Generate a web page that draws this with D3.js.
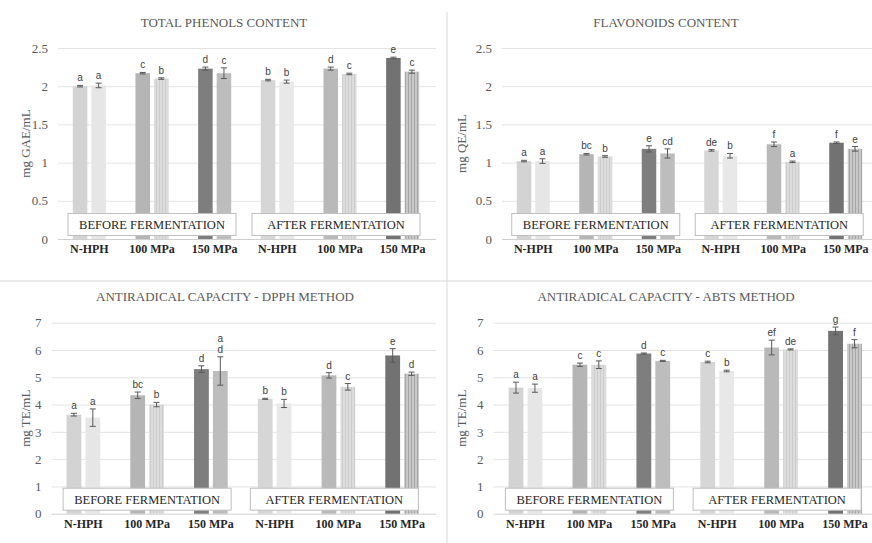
<!DOCTYPE html>
<html>
<head>
<meta charset="utf-8">
<script src="https://cdn.jsdelivr.net/npm/d3@7/dist/d3.min.js"></script>
<style>
  html, body { margin: 0; padding: 0; background: #fff; }
  svg { display: block; }
</style>
</head>
<body>
<svg id="chart" width="872" height="543"></svg>
<script>
// Sample groups (before fermentation: first three, after fermentation: last three)
const categories = ["N-HPH", "100 MPa", "150 MPa", "N-HPH", "100 MPa", "150 MPa"];
const stages = ["BEFORE FERMENTATION", "AFTER FERMENTATION"];

// Total phenols (mg GAE/mL) — first and second bar of each group
const phenolsA    = [2.00, 2.17, 2.23, 2.08, 2.23, 2.37];
const phenolsAErr = [0.01, 0.01, 0.02, 0.01, 0.02, 0.01];
const phenolsALet = ["a", "c", "d", "b", "d", "e"];
const phenolsB    = [2.01, 2.10, 2.17, 2.06, 2.16, 2.19];
const phenolsBErr = [0.03, 0.01, 0.07, 0.02, 0.01, 0.02];
const phenolsBLet = ["a", "b", "c", "b", "c", "c"];

// Flavonoids (mg QE/mL)
const flavA    = [1.02, 1.11, 1.18, 1.16, 1.24, 1.26];
const flavAErr = [0.01, 0.01, 0.04, 0.01, 0.03, 0.01];
const flavALet = ["a", "bc", "e", "de", "f", "f"];
const flavB    = [1.02, 1.08, 1.12, 1.09, 1.01, 1.18];
const flavBErr = [0.03, 0.01, 0.06, 0.03, 0.01, 0.03];
const flavBLet = ["a", "b", "cd", "b", "a", "e"];

// Antiradical capacity, DPPH (mg TE/mL)
const dpphA    = [3.63, 4.34, 5.30, 4.21, 5.07, 5.80];
const dpphAErr = [0.05, 0.12, 0.12, 0.02, 0.10, 0.25];
const dpphALet = ["a", "bc", "d", "b", "d", "e"];
const dpphB    = [3.52, 4.00, 5.23, 4.04, 4.65, 5.13];
const dpphBErr = [0.32, 0.08, 0.52, 0.15, 0.12, 0.06];
const dpphBLet = ["a", "b", "a/d", "b", "c", "d"];

// Antiradical capacity, ABTS (mg TE/mL)
const abtsA    = [4.62, 5.46, 5.87, 5.56, 6.09, 6.70];
const abtsAErr = [0.20, 0.06, 0.02, 0.03, 0.27, 0.14];
const abtsALet = ["a", "c", "d", "c", "ef", "g"];
const abtsB    = [4.60, 5.46, 5.60, 5.23, 6.02, 6.23];
const abtsBErr = [0.15, 0.14, 0.02, 0.03, 0.02, 0.15];
const abtsBLet = ["a", "c", "c", "b", "de", "f"];

// Tick labels
const ticksLow  = [0, 0.5, 1, 1.5, 2, 2.5];
const ticksHigh = [0, 1, 2, 3, 4, 5, 6, 7];

// Bar fills per group: first bar, second bar
const fillA = ["#d3d3d3", "#b5b5b5", "#7e7e7e", "#d6d6d6", "#b9b9b9", "#727272"];
const fillB = ["#e6e6e6", "url(#stripeLight)", "#bdbdbd", "#e8e8e8", "url(#stripeLight)", "url(#stripeDark)"];

const svg = d3.select("#chart");
const SERIF = "'Liberation Serif', 'Times New Roman', serif";
const SANS = "'Liberation Sans', Arial, sans-serif";

// stripe patterns for the hatched second bars
const defs = svg.append("defs");
function stripe(id, bg, line, w) {
  const p = defs.append("pattern").attr("id", id).attr("patternUnits", "userSpaceOnUse")
    .attr("width", w).attr("height", 4);
  p.append("rect").attr("width", w).attr("height", 4).attr("fill", bg);
  p.append("rect").attr("x", 0).attr("width", 1).attr("height", 4).attr("fill", line);
}
stripe("stripeLight", "#dcdcdc", "#cdcdcd", 3);
stripe("stripeDark", "#c8c8c8", "#a6a6a6", 3);

// panel frame separators
svg.append("line").attr("x1", 447).attr("x2", 447).attr("y1", 12).attr("y2", 543)
  .attr("stroke", "#d9d9d9").attr("stroke-width", 1);
svg.append("line").attr("x1", 0).attr("x2", 872).attr("y1", 281).attr("y2", 281)
  .attr("stroke", "#d9d9d9").attr("stroke-width", 1);

const panels = [
  { title: "TOTAL PHENOLS CONTENT", ylabel: "mg GAE/mL", a: phenolsA, aErr: phenolsAErr, aLet: phenolsALet,
    b: phenolsB, bErr: phenolsBErr, bLet: phenolsBLet, ticks: ticksLow, max: 2.5,
    x0: 58, x1: 434, y0: 239, yTop: 48, titleX: 224, titleY: 27, ylabX: 25 },
  { title: "FLAVONOIDS CONTENT", ylabel: "mg QE/mL", a: flavA, aErr: flavAErr, aLet: flavALet,
    b: flavB, bErr: flavBErr, bLet: flavBLet, ticks: ticksLow, max: 2.5,
    x0: 502, x1: 877, y0: 239, yTop: 48, titleX: 666, titleY: 27, ylabX: 461 },
  { title: "ANTIRADICAL CAPACITY - DPPH METHOD", ylabel: "mg TE/mL", a: dpphA, aErr: dpphAErr, aLet: dpphALet,
    b: dpphB, bErr: dpphBErr, bLet: dpphBLet, ticks: ticksHigh, max: 7,
    x0: 51.5, x1: 434, y0: 513.7, yTop: 322.7, titleX: 225, titleY: 301, ylabX: 25 },
  { title: "ANTIRADICAL CAPACITY - ABTS METHOD", ylabel: "mg TE/mL", a: abtsA, aErr: abtsAErr, aLet: abtsALet,
    b: abtsB, bErr: abtsBErr, bLet: abtsBLet, ticks: ticksHigh, max: 7,
    x0: 493.5, x1: 877, y0: 513.7, yTop: 322.7, titleX: 666, titleY: 301, ylabX: 461 }
];

panels.forEach(p => {
  const g = svg.append("g");
  const x = d3.scaleBand().domain(d3.range(categories.length)).range([p.x0, p.x1]).padding(0);
  const y = d3.scaleLinear().domain([0, p.max]).range([p.y0, p.yTop]);
  const bw = x.bandwidth() * 0.232;
  const off = x.bandwidth() * 0.148;

  // gridlines
  const grid = g.append("g").attr("transform", `translate(${p.x0},0)`)
    .call(d3.axisLeft(y).tickValues(p.ticks).tickSize(-(p.x1 - p.x0 + 2)).tickFormat(""));
  grid.select(".domain").remove();
  grid.selectAll("line").attr("stroke", "#e3e3e3").attr("stroke-width", 1);
  grid.selectAll(".tick").filter(d => d === 0).select("line").attr("stroke", "#d0d0d0");

  // y tick labels
  const ax = g.append("g").attr("transform", `translate(${p.x0 - 10},0)`)
    .call(d3.axisLeft(y).tickValues(p.ticks).tickSize(0).tickPadding(0).tickFormat(d3.format("")));
  ax.select(".domain").remove();
  ax.selectAll("text").attr("font-family", SERIF).attr("font-size", 13).attr("fill", "#595959");

  // title and y-axis label
  g.append("text").attr("x", p.titleX).attr("y", p.titleY).attr("text-anchor", "middle")
    .attr("font-family", SERIF).attr("font-size", 13).attr("fill", "#595959").text(p.title);
  g.append("text").attr("transform", `translate(${p.ylabX},${(p.y0 + p.yTop) / 2}) rotate(-90)`)
    .attr("text-anchor", "middle").attr("dy", "0.35em")
    .attr("font-family", SERIF).attr("font-size", 13).attr("fill", "#595959").text(p.ylabel);

  const series = [
    { v: p.a, e: p.aErr, l: p.aLet, fill: fillA, dx: -off },
    { v: p.b, e: p.bErr, l: p.bLet, fill: fillB, dx: off }
  ];
  series.forEach(s => {
    const cx = i => x(i) + x.bandwidth() / 2 + s.dx;
    g.selectAll(null).data(s.v).enter().append("rect")
      .attr("x", (d, i) => cx(i) - bw / 2).attr("width", bw)
      .attr("y", d => y(d)).attr("height", d => p.y0 - y(d))
      .attr("fill", (d, i) => s.fill[i]);
    // error bars
    s.v.forEach((d, i) => {
      const top = y(d + s.e[i]), bot = y(d - s.e[i]), c = cx(i);
      g.append("line").attr("x1", c).attr("x2", c).attr("y1", top).attr("y2", bot)
        .attr("stroke", "#595959").attr("stroke-width", 1);
      [top, bot].forEach(yy => g.append("line").attr("x1", c - 3).attr("x2", c + 3)
        .attr("y1", yy).attr("y2", yy).attr("stroke", "#595959").attr("stroke-width", 1));
      // significance letters; a slash stacks two letters above one another
      const parts = s.l[i].split("/");
      parts.forEach((t, k) => {
        g.append("text").attr("x", c).attr("y", top - 4 - (parts.length - 1 - k) * 11)
          .attr("text-anchor", "middle").attr("font-family", SANS).attr("font-size", 10)
          .attr("fill", "#404040").text(t);
      });
    });
  });

  // stage boxes laid over the bars
  const centers = [x(1) + x.bandwidth() / 2, x(4) + x.bandwidth() / 2 - 4];
  const boxW = 168, boxH = 22;
  stages.forEach((st, k) => {
    g.append("rect").attr("x", centers[k] - boxW / 2).attr("y", p.y0 - 3.5 - boxH)
      .attr("width", boxW).attr("height", boxH)
      .attr("fill", "#fff").attr("stroke", "#bfbfbf").attr("stroke-width", 1);
    g.append("text").attr("x", centers[k]).attr("y", p.y0 - 3.5 - boxH / 2).attr("dy", "0.35em")
      .attr("text-anchor", "middle").attr("font-family", SERIF).attr("font-size", 12.5)
      .attr("fill", "#262626").text(st);
  });

  // category labels
  g.selectAll(null).data(categories).enter().append("text")
    .attr("x", (d, i) => x(i) + x.bandwidth() / 2).attr("y", p.y0 + 14)
    .attr("text-anchor", "middle").attr("font-family", SERIF).attr("font-weight", "bold")
    .attr("font-size", 12).attr("fill", "#262626").text(d => d);
});
</script>
</body>
</html>
